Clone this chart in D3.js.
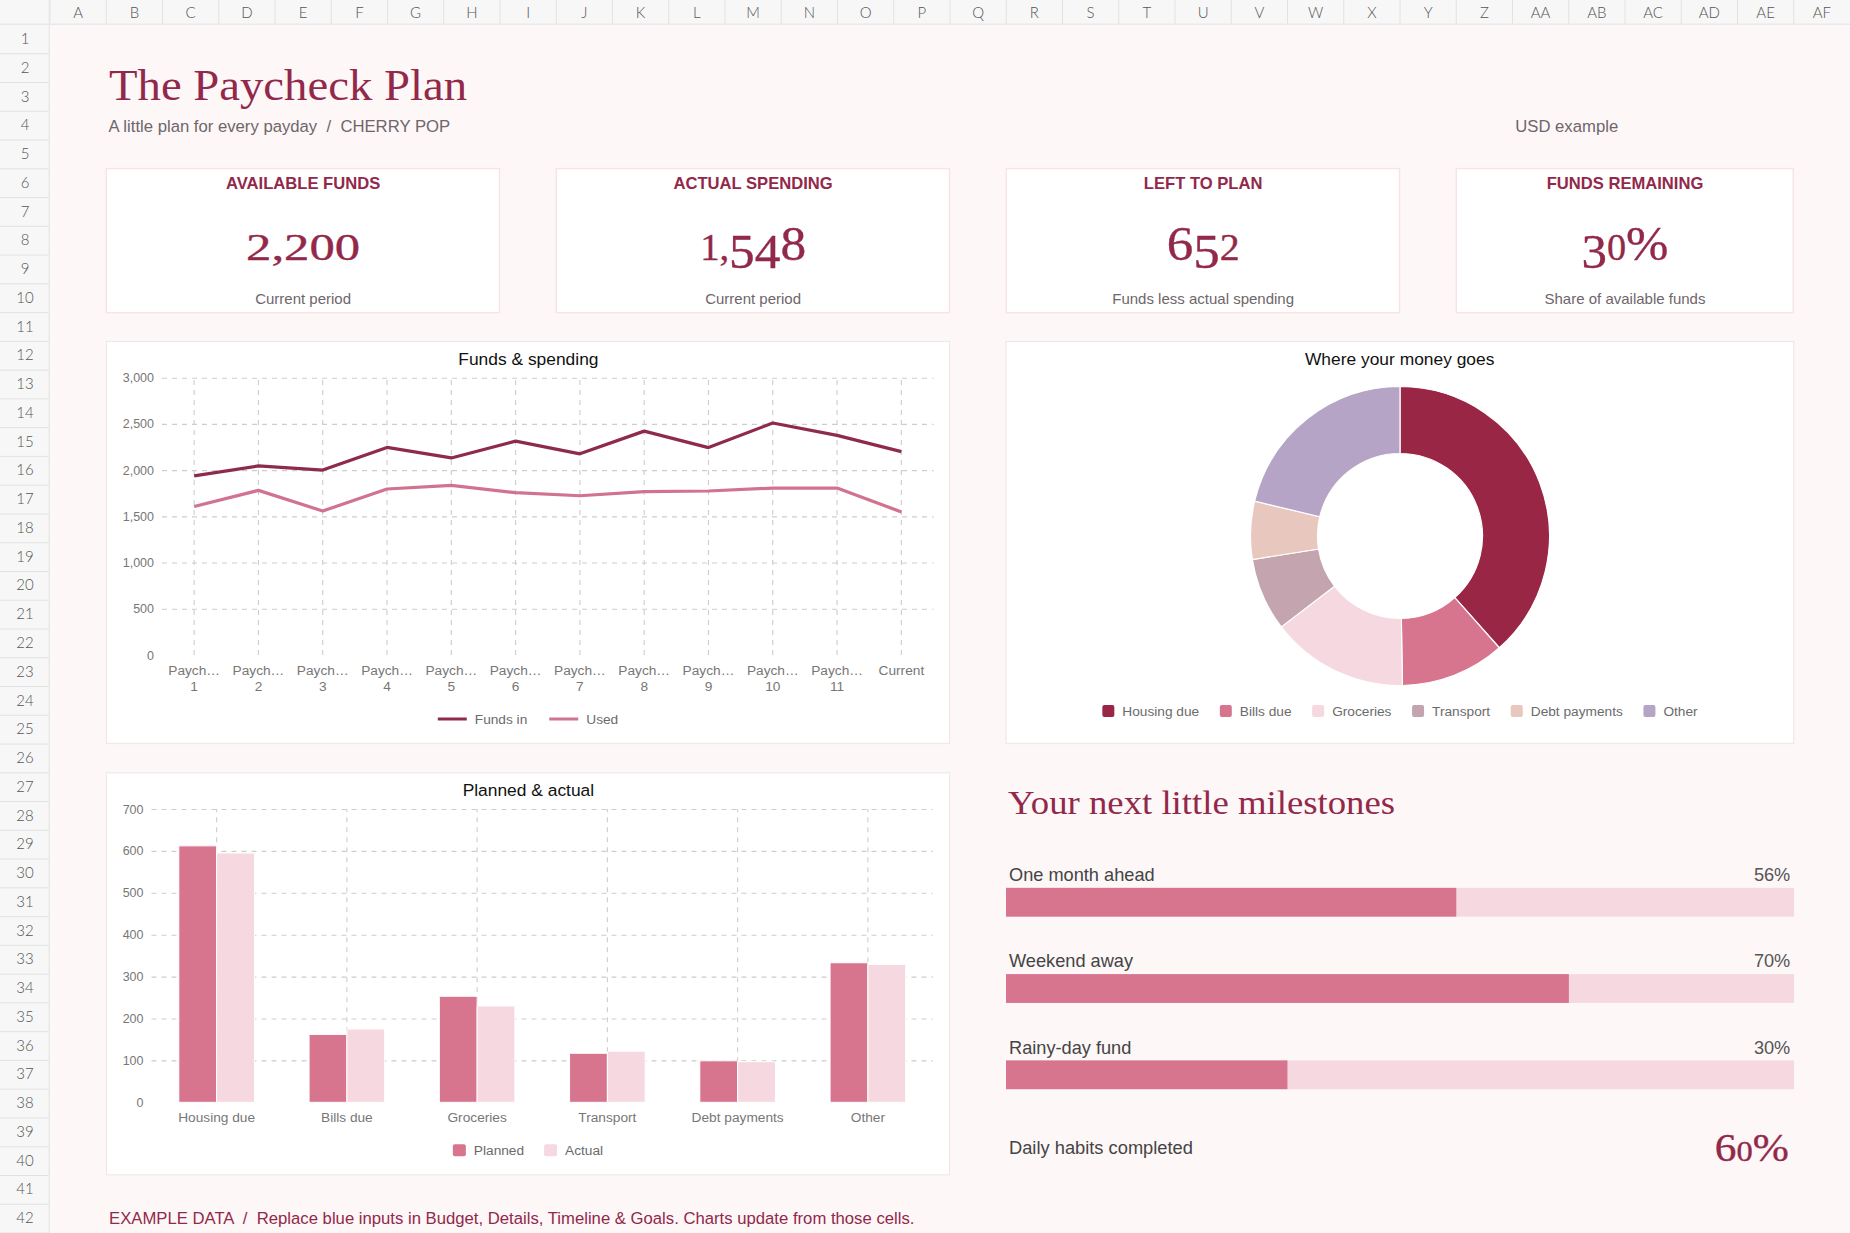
<!DOCTYPE html>
<html><head><meta charset="utf-8">
<script src="https://cdnjs.cloudflare.com/ajax/libs/d3/7.8.5/d3.min.js"></script>
<style>
html,body{margin:0;padding:0;background:#FDF7F8;overflow:hidden}
svg{display:block}
text{font-family:"Liberation Sans",Arial,sans-serif}
.serif{font-family:"Liberation Serif",serif}
.grid path{display:none}
.grid line{stroke:#CDCDCD;stroke-width:1.1;stroke-dasharray:5 5}
.grid text{fill:#777}
.yaxis text{font-size:12.5px}
.xaxis text{font-size:13.7px}
</style></head><body>
<svg id="s" width="1850" height="1233"></svg>
<script>
// ---- data ----
const periods=["Paych… 1","Paych… 2","Paych… 3","Paych… 4","Paych… 5","Paych… 6","Paych… 7","Paych… 8","Paych… 9","Paych… 10","Paych… 11","Current"];
const fundsIn=[1938,2046,2001,2246,2132,2314,2176,2422,2244,2510,2376,2200];
const used=[1607,1781,1558,1796,1835,1756,1723,1767,1774,1806,1806,1548];
const lineTicks=[0,500,1000,1500,2000,2500,3000];
const categories=["Housing due","Bills due","Groceries","Transport","Debt payments","Other"];
const planned=[612,162,253,117,99,333];
const actual=[595,175,230,122,97,329];
const barTicks=[0,100,200,300,400,500,600,700];
const kpiTitles=["AVAILABLE FUNDS","ACTUAL SPENDING","LEFT TO PLAN","FUNDS REMAINING"];
const kpiValues=["2,200","1,548","652","30%"];
const kpiNotes=["Current period","Current period","Funds less actual spending","Share of available funds"];
const goalNames=["One month ahead","Weekend away","Rainy-day fund"];
const goalLabels=["56%","70%","30%"];
const goalCells=[8,10,5];
const goalCellCount=14;
const colLabels="A B C D E F G H I J K L M N O P Q R S T U V W X Y Z AA AB AC AD AE AF".split(" ");
const rowLabels=d3.range(1,43);

// ---- palette ----
const cherry="#9A2646",ink="#92284A",rose="#D7748E",blush="#F5D8E0",soft="#6E666A";
const donutColors=[cherry,rose,blush,"#C4A5AF","#E8C7BE","#B6A4C6"];
const svg=d3.select("#s");
const colW=56.25,rowH=1208/42,headH=25,headW=50;
const colX=i=>headW+i*colW, rowY=i=>headH+i*rowH;

// ---- sheet headers ----
const hdr=svg.append("g");
hdr.append("rect").attr("width",1850).attr("height",headH).attr("fill","#F7F7F7");
hdr.append("rect").attr("width",headW).attr("height",1233).attr("fill","#F7F7F7");
hdr.selectAll(".cl").data(colLabels).join("line").attr("x1",(d,i)=>colX(i)).attr("x2",(d,i)=>colX(i)).attr("y1",0).attr("y2",headH).attr("stroke","#E2E2E2");
hdr.selectAll(".rl").data(rowLabels).join("line").attr("y1",(d,i)=>rowY(i+1)).attr("y2",(d,i)=>rowY(i+1)).attr("x1",0).attr("x2",headW).attr("stroke","#E2E2E2");
hdr.append("rect").attr("x",0).attr("y",headH-1.5).attr("width",1850).attr("height",1.5).attr("fill","#E9E9E9");
hdr.append("rect").attr("x",headW-1.5).attr("y",0).attr("width",1.5).attr("height",1233).attr("fill","#E9E9E9");
const hs=s=>s.attr("font-size",15).attr("fill","#555").attr("text-anchor","middle").style("font-family","Lato").style("font-weight",300);
hdr.selectAll(".ct").data(colLabels).join("text").text(d=>d).attr("x",(d,i)=>colX(i)+colW/2).attr("y",17.5).call(hs);
hdr.selectAll(".rt").data(rowLabels).join("text").text(d=>d).attr("x",25).attr("y",(d,i)=>rowY(i)+19).call(hs);

// ---- helpers ----
function label(x,y,t,o={}){
  const e=svg.append("text").attr("x",x).attr("y",y).text(t)
    .attr("font-size",o.size||14).attr("fill",o.fill||"#666").attr("text-anchor",o.anchor||"start");
  if(o.bold)e.attr("font-weight",700);
  return e;
}
function panel(x,y,w,h,stroke,sw){svg.append("rect").attr("x",x).attr("y",y).attr("width",w).attr("height",h).attr("fill","#fff").attr("stroke",stroke).attr("stroke-width",sw);}
// old-style figures, built from real text: x-height digits and taller ascending/descending ones
function oldStyle(cx,base,str,xh,width){
  const g=svg.append("g").attr("transform",`translate(${cx},${base})`);
  const t=g.append("text").attr("class","serif").attr("fill",ink).attr("text-anchor","middle").attr("stroke",ink).attr("stroke-width",0.35);
  const low=xh/0.676,tall=low*1.33;let off=0;
  for(const c of str){
    const isAsc="68%".includes(c),isDesc="34579".includes(c);
    const target=isDesc?xh*0.3:0;
    t.append("tspan").text(c).attr("dy",target-off).attr("font-size",isAsc||isDesc?tall:low);
    off=target;
  }
  const k=width/t.node().getComputedTextLength();
  t.attr("transform",`scale(${k},1)`);
}
function legend(cx,y,items,swW,drawSwatch,gap){
  const g=svg.append("g");
  const size=13.7;let x=0;
  const rows=items.map(it=>{
    const t=g.append("text").text(it.name).attr("font-size",size).attr("fill","#6b6b6b").attr("y",y+4.8);
    const w=t.node().getComputedTextLength();
    const r={t,x,w,it};x+=swW+8+w+gap;return r;});
  const start=cx-(x-gap)/2;
  rows.forEach(r=>{
    r.t.attr("x",start+r.x+swW+8);
    drawSwatch(g,start+r.x,y,r.it);
  });
}
const rectSwatch=(w)=>(g,x,y,it)=>g.append("rect").attr("x",x).attr("y",y-6).attr("width",w).attr("height",12).attr("rx",2).attr("fill",it.color);

// ---- page title ----
label(109,100,"The Paycheck Plan",{size:45,fill:ink}).attr("class","serif").attr("textLength",358).attr("lengthAdjust","spacingAndGlyphs");
label(108.5,132,"A little plan for every payday  /  CHERRY POP",{size:16.7,fill:soft}).style("white-space","pre");
label(1566.7,132,"USD example",{size:16.7,fill:soft,anchor:"middle"});

// ---- KPI cards ----
const cards=[[1,7,114],[9,7,106],[17,7,73],[25,6,87]];
cards.forEach(([c,n,vw],i)=>{
  const x=colX(c),w=n*colW,cx=x+w/2;
  panel(x,168.6,w-0.5,144,"#F7E3E8",1.4);
  label(cx,188.7,kpiTitles[i],{size:16.6,bold:true,fill:ink,anchor:"middle"});
  oldStyle(cx,260,kpiValues[i],25,vw);
  label(cx,304.3,kpiNotes[i],{size:15,fill:soft,anchor:"middle"});
});

// ---- line chart ----
panel(106.5,341.5,843,402,"#F0E8EA",1.2);
label(528.4,365,"Funds & spending",{size:17.4,fill:"#111",anchor:"middle"});
const lx=d3.scaleBand().domain(periods).range([162,933.5]);
const ly=d3.scaleLinear().domain([0,3000]).range([655,377.7]);
svg.append("g").attr("class","grid yaxis").attr("transform","translate(162,0)")
  .call(d3.axisLeft(ly).tickValues(lineTicks).tickFormat(d3.format(",")).tickSize(-771.5).tickPadding(8))
  .call(g=>g.selectAll(".tick").filter(d=>d===0).select("line").remove());
const lxAxis=svg.append("g").attr("class","grid xaxis").attr("transform","translate(0,655)")
  .call(d3.axisBottom(lx).tickSize(-277.3).tickPadding(0));
lxAxis.selectAll("text").each(function(d){
  const parts=d.includes(" ")?d.split(" "):[d];
  const t=d3.select(this).text(null).attr("y",0).attr("dy",0);
  parts.forEach((p,i)=>t.append("tspan").attr("x",0).attr("y",19.5+i*16.3).text(p));
});
const lineGen=vals=>d3.line().x((d,i)=>lx(periods[i])+lx.bandwidth()/2).y(d=>ly(d))(vals);
[[fundsIn,"#8E2A4B"],[used,"#D1728E"]].forEach(([v,c])=>svg.append("path").attr("d",lineGen(v)).attr("fill","none").attr("stroke",c).attr("stroke-width",3.2).attr("stroke-linejoin","round"));
legend(528,719,[{name:"Funds in",color:"#8E2A4B"},{name:"Used",color:"#D1728E"}],29,(g,x,y,it)=>g.append("line").attr("x1",x).attr("x2",x+29).attr("y1",y).attr("y2",y).attr("stroke",it.color).attr("stroke-width",3),22);

// ---- donut ----
panel(1006,341.5,787.7,402,"#F0E8EA",1.2);
label(1399.7,365,"Where your money goes",{size:17.4,fill:"#111",anchor:"middle"});
const pie=d3.pie().sort(null).value(d=>d)(actual);
const arc=d3.arc().innerRadius(82.5).outerRadius(149.5);
svg.append("g").attr("transform","translate(1400,536)").selectAll("path").data(pie).join("path")
  .attr("d",arc).attr("fill",(d,i)=>donutColors[i]).attr("stroke","#fff").attr("stroke-width",1.2);
legend(1400,711,categories.map((n,i)=>({name:n,color:donutColors[i]})),12,rectSwatch(12),20.6);

// ---- bar chart ----
panel(106.5,772.8,843,402,"#F0E8EA",1.2);
label(528.4,795.5,"Planned & actual",{size:17.4,fill:"#111",anchor:"middle"});
const bx=d3.scaleBand().domain(categories).range([151.5,933]);
const by=d3.scaleLinear().domain([0,700]).range([1102.3,809]);
svg.append("g").attr("class","grid yaxis").attr("transform","translate(151.5,0)")
  .call(d3.axisLeft(by).tickValues(barTicks).tickSize(-781.5).tickPadding(8))
  .call(g=>g.selectAll(".tick").filter(d=>d===0).select("line").remove());
const bxAxis=svg.append("g").attr("class","grid xaxis").attr("transform","translate(0,1102.3)")
  .call(d3.axisBottom(bx).tickSize(-293.3).tickPadding(0));
bxAxis.selectAll("text").attr("y",0).attr("dy",0).attr("transform","translate(0,19.9)");
const barW=37.8;
[[planned,rose,-barW],[actual,blush,0]].forEach(([v,c,off])=>{
  svg.append("g").selectAll("rect").data(v).join("rect")
    .attr("x",(d,i)=>bx(categories[i])+bx.bandwidth()/2+off)
    .attr("y",d=>by(d)).attr("width",barW).attr("height",d=>by(0)-by(d))
    .attr("rx",1).attr("fill",c).attr("stroke","#fff").attr("stroke-width",1);
});
legend(528,1150.3,[{name:"Planned",color:rose},{name:"Actual",color:blush}],13,rectSwatch(13),20);

// ---- milestones ----
label(1008,814,"Your next little milestones",{size:34,fill:ink}).attr("class","serif").attr("textLength",387).attr("lengthAdjust","spacingAndGlyphs");
const gx=d3.scaleLinear().domain([0,goalCellCount]).range([1006,1794]);
goalNames.forEach((n,i)=>{
  const top=rowY(30+[0,3,6][i]),h=rowH;
  svg.append("rect").attr("x",gx(0)).attr("y",top).attr("width",gx(goalCellCount)-gx(0)).attr("height",h).attr("fill",blush);
  svg.append("rect").attr("x",gx(0)).attr("y",top).attr("width",gx(goalCells[i])-gx(0)).attr("height",h).attr("fill",rose);
  const ty=[881,967,1054][i];
  label(1009,ty,n,{size:18.2,fill:"#444"});
  label(1790.3,ty,goalLabels[i],{size:18.2,fill:"#555",anchor:"end"});
});
label(1009,1153.5,"Daily habits completed",{size:18.3,fill:"#444"});
oldStyle(1751.8,1161,"60%",20,74);

// ---- footer ----
label(109,1224.3,"EXAMPLE DATA  /  Replace blue inputs in Budget, Details, Timeline & Goals. Charts update from those cells.",{size:16.7,fill:ink}).style("white-space","pre");
</script>
</body></html>
